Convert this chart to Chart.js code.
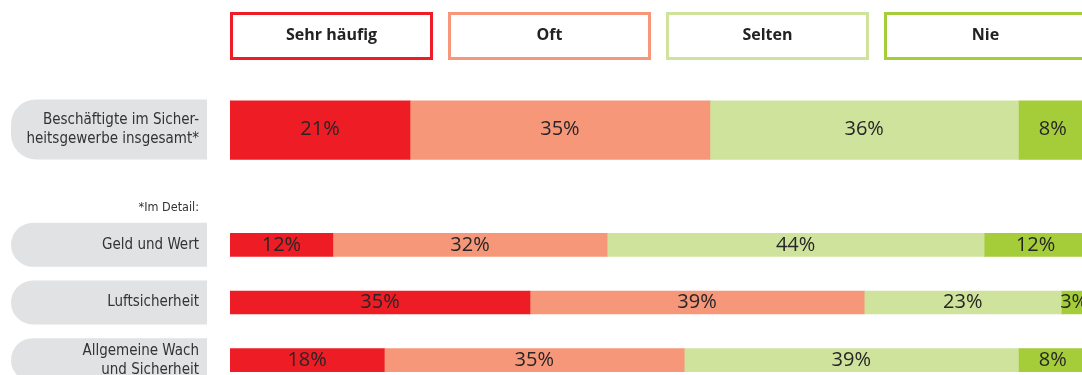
<!DOCTYPE html>
<html lang="de">
<head>
  <meta charset="UTF-8">
  <title>Häufigkeit im Sicherheitsgewerbe</title>
  <script src="https://cdn.jsdelivr.net/npm/chart.js"></script>
  <style>
    html, body { margin: 0; padding: 0; background: #fff; overflow: hidden; }
    #wrap { position: relative; width: 1100px; height: 389px; }
  </style>
</head>
<body>
  <div id="wrap"><canvas id="bars"></canvas></div>
  <script>
    // Daten
    const categories = [
      ['Beschäftigte im Sicher-', 'heitsgewerbe insgesamt*'],
      ['Geld und Wert'],
      ['Luftsicherheit'],
      ['Allgemeine Wach', 'und Sicherheit']
    ];
    const series = ['Sehr häufig', 'Oft', 'Selten', 'Nie'];
    const sehrHaeufig = [21, 12, 35, 18];
    const oft = [35, 32, 39, 35];
    const selten = [36, 44, 23, 39];
    const nie = [8, 12, 3, 8];
    const detailNote = '*Im Detail:';

    const colors = ['#ee1c25', '#f6977a', '#cfe39c', '#a5cd39'];
    const values = [sehrHaeufig, oft, selten, nie];

    // first row is the total, then an empty slot, then the detail rows
    const axisLabels = ['total', '', 'd1', 'd2', 'd3'];

    var datasets = [];
    series.forEach(function (name, s) {
      var v = values[s];
      datasets.push({
        label: name,
        data: [v[0], null, null, null, null],
        backgroundColor: colors[s],
        barThickness: 60
      });
    });
    series.forEach(function (name, s) {
      var v = values[s];
      datasets.push({
        label: name,
        data: [null, null, v[1], v[2], v[3]],
        backgroundColor: colors[s],
        barThickness: 23
      });
    });

    const FONT = '"Open Sans", "Noto Sans", sans-serif';
    const NARROW = '"DejaVu Sans Condensed", sans-serif';

    function pill(ctx, x1, x2, top, h, r) {
      ctx.beginPath();
      ctx.moveTo(x2, top);
      ctx.lineTo(x1 + r, top);
      ctx.arcTo(x1, top, x1, top + r, r);
      ctx.lineTo(x1, top + h - r);
      ctx.arcTo(x1, top + h, x1 + r, top + h, r);
      ctx.lineTo(x2, top + h);
      ctx.closePath();
      ctx.fill();
    }

    const decorations = {
      id: 'decorations',
      beforeDatasetsDraw: function (chart) {
        var ctx = chart.ctx;
        var y = chart.scales.y;
        var area = chart.chartArea;
        ctx.save();

        // legend boxes
        var gap = 15;
        var bw = (area.right - area.left - 3 * gap) / 4;
        series.forEach(function (name, i) {
          var bx = area.left + i * (bw + gap);
          ctx.strokeStyle = colors[i];
          ctx.lineWidth = 3;
          ctx.strokeRect(bx + 1.5, 13.5, bw - 3, 45);
          ctx.fillStyle = '#222';
          ctx.font = 'bold 16px ' + FONT;
          ctx.textAlign = 'center';
          ctx.textBaseline = 'middle';
          ctx.fillText(name, bx + bw / 2, 35.5);
        });

        // category pills
        var rows = [0, 2, 3, 4];
        rows.forEach(function (idx, r) {
          var cy = y.getPixelForValue(idx);
          var h = r === 0 ? 60 : 44;
          ctx.fillStyle = '#e1e2e4';
          pill(ctx, 11, 207, cy - h / 2, h, r === 0 ? 25 : 22);
          var lines = categories[r];
          ctx.fillStyle = '#333';
          ctx.font = '15px ' + NARROW;
          ctx.textAlign = 'right';
          ctx.textBaseline = 'middle';
          var lh = 19;
          lines.forEach(function (t, k) {
            ctx.fillText(t, 199, cy + (k - (lines.length - 1) / 2) * lh);
          });
        });

        ctx.font = '12.5px ' + NARROW;
        ctx.fillStyle = '#333';
        ctx.textAlign = 'right';
        ctx.fillText(detailNote, 199, y.getPixelForValue(2) - 37);
        ctx.restore();
      },
      afterDatasetsDraw: function (chart) {
        var ctx = chart.ctx;
        ctx.save();
        ctx.fillStyle = '#262626';
        ctx.font = '20px ' + FONT;
        ctx.textAlign = 'center';
        ctx.textBaseline = 'middle';
        chart.data.datasets.forEach(function (ds, d) {
          var meta = chart.getDatasetMeta(d);
          meta.data.forEach(function (bar, i) {
            var v = ds.data[i];
            if (v == null) return;
            ctx.fillText(v + '%', (bar.x + bar.base) / 2, bar.y);
          });
        });
        ctx.restore();
      }
    };

    new Chart(document.getElementById('bars'), {
      type: 'bar',
      data: { labels: axisLabels, datasets: datasets },
      options: {
        indexAxis: 'y',
        responsive: true,
        maintainAspectRatio: false,
        animation: false,
        layout: { padding: { top: 100.6, left: 230, right: 13, bottom: 0 } },
        scales: {
          x: { stacked: true, min: 0, max: 100, display: false },
          y: { stacked: true, display: false }
        },
        plugins: {
          legend: { display: false },
          tooltip: { enabled: false }
        }
      },
      plugins: [decorations]
    });
  </script>
</body>
</html>
